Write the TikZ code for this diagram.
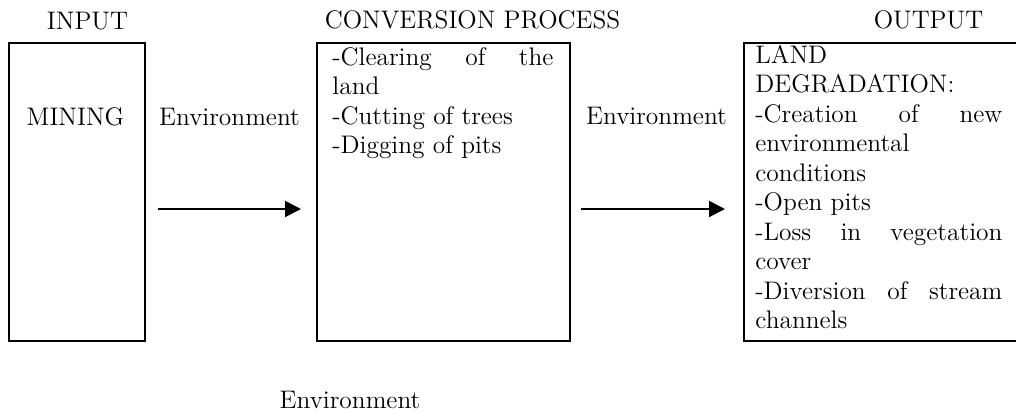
\documentclass[tikz,border=0pt]{standalone}
\usetikzlibrary{arrows.meta,calc}
\begin{document}
\begin{tikzpicture}[x=0.5pt,y=-0.5pt,
  txt/.style={inner sep=0pt, font=\fontsize{12.7}{14.75}\selectfont},
  box/.style={draw, line width=1pt, inner sep=0pt, anchor=north west, minimum height=149pt},
  arr/.style={line width=1pt, -{Triangle[length=8pt,width=8pt]}}]
\useasboundingbox (0,0) rectangle (1016,413);
% headings
\node[txt, anchor=base] (hin) at (87.5,29) {INPUT};
\node[txt, anchor=base] (hconv) at (472.5,28) {CONVERSION PROCESS};
\node[txt, anchor=base] (hout) at (928.5,28) {OUTPUT};
% boxes
\node[box, minimum width=68pt] (b1) at (8,42) {};
\node[box, minimum width=126.5pt] (b2) at (316,42) {};
\node[box, minimum width=137pt] (b3) at (743,42) {};
% box texts
\node[txt, anchor=base] (mining) at (75.5,125) {MINING};
\node[txt, anchor=base west] (t2) at (332,65) {\parbox[t]{110.5pt}{%
\makebox[\linewidth][s]{-Clearing of the}\\
land\\
-Cutting of trees\\
-Digging of pits}};
\node[txt, anchor=base west] (t3) at (755,63) {\parbox[t]{123.5pt}{%
LAND\\
DEGRADATION:\\
\makebox[\linewidth][s]{-Creation of new}\\
environmental\\
conditions\\
-Open pits\\
\makebox[\linewidth][s]{-Loss in vegetation}\\
cover\\
\makebox[\linewidth][s]{-Diversion of stream}\\
channels}};
% labels
\node[txt, anchor=base] (env1) at (229.5,125) {Environment};
\node[txt, anchor=base] (env2) at (656.5,124) {Environment};
\node[txt, anchor=base] (env3) at (350,408) {Environment};
% arrows
\draw[arr] ($(b1.east)+(12,17)$) -- ($(b2.west)+(-15,17)$);
\draw[arr] ($(b2.east)+(10,17)$) -- ($(b3.west)+(-18,17)$);
\end{tikzpicture}
\end{document}
